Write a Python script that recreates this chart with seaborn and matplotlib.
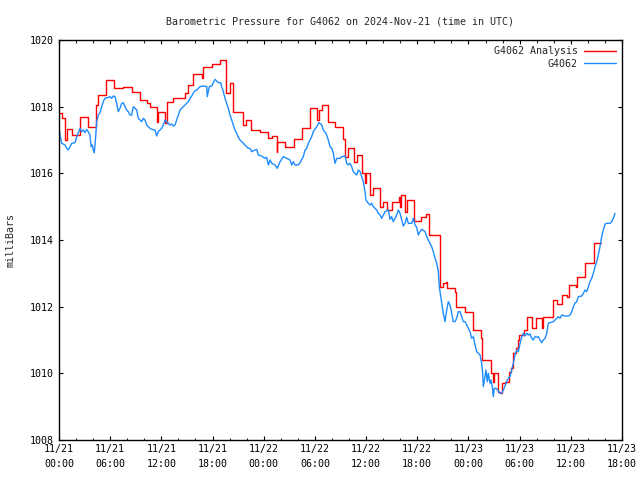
import matplotlib
matplotlib.use("Agg")
import matplotlib.pyplot as plt
import seaborn as sns
import pandas as pd
from matplotlib.ticker import MultipleLocator

# hours since 2024-11-21 00:00 UTC
analysis_hours = [0.0, 0.4, 0.7, 0.9, 1.56, 2.46, 3.43, 4.34, 4.6, 5.47, 6.48, 7.54, 8.52, 9.5,
                  10.28, 10.67, 11.45, 11.64, 12.43, 12.63, 13.4, 14.77, 15.09, 15.74, 16.73,
                  16.92, 17.9, 18.87, 19.58, 20.05, 20.43, 21.6, 21.9, 22.47, 23.56, 24.54,
                  24.94, 25.52, 25.6, 26.5, 27.58, 28.45, 29.4, 30.28, 30.48, 30.8, 31.57,
                  32.36, 33.33, 33.53, 33.92, 34.58, 34.9, 35.49, 35.87, 35.99, 36.46, 36.81,
                  37.63, 37.95, 38.49, 39.0, 39.86, 39.97, 40.1, 40.56, 40.76, 41.62, 42.44,
                  43.0, 43.41, 44.67, 45.05, 45.37, 45.5, 46.42, 46.54, 47.6, 48.53, 49.44,
                  49.55, 50.6, 50.91, 51.0, 51.43, 51.7, 51.9, 52.29, 52.79, 52.95, 53.26,
                  53.58, 53.77, 53.96, 54.51, 54.9, 55.42, 55.92, 56.59, 56.78, 57.88, 58.42,
                  58.93, 59.52, 59.82, 60.61, 60.76, 61.67, 62.72, 63.54]
analysis_mbar = [1017.8, 1017.65, 1017.0, 1017.32, 1017.15, 1017.7, 1017.4, 1018.05, 1018.35,
                 1018.8, 1018.55, 1018.58, 1018.45, 1018.2, 1018.1, 1018.0, 1017.55, 1017.83,
                 1017.5, 1018.15, 1018.25, 1018.4, 1018.65, 1018.98, 1018.85, 1019.2, 1019.27,
                 1019.4, 1018.4, 1018.7, 1017.85, 1017.45, 1017.6, 1017.3, 1017.25, 1017.05,
                 1017.12, 1016.65, 1016.95, 1016.78, 1017.02, 1017.35, 1017.95, 1017.6, 1017.9,
                 1018.05, 1017.55, 1017.4, 1017.02, 1016.5, 1016.75, 1016.35, 1016.55, 1016.0,
                 1015.7, 1016.0, 1015.35, 1015.55, 1015.0, 1015.15, 1014.9, 1015.15, 1015.3,
                 1015.0, 1015.35, 1014.85, 1015.2, 1014.57, 1014.7, 1014.78, 1014.15, 1012.6,
                 1012.7, 1012.75, 1012.55, 1012.45, 1012.0, 1011.85, 1011.3, 1011.05, 1010.4,
                 1010.0, 1009.75, 1010.0, 1009.45, 1009.4, 1009.7, 1009.75, 1010.05, 1010.15,
                 1010.6, 1010.75, 1011.0, 1011.15, 1011.3, 1011.7, 1011.35, 1011.65, 1011.35,
                 1011.7, 1012.2, 1012.07, 1012.35, 1012.3, 1012.65, 1012.58, 1012.88, 1013.3,
                 1013.9, 1013.9]

obs_hours = [0.0, 0.12, 0.32, 0.7, 0.9, 1.09, 1.29, 1.49, 1.88, 2.08, 2.26, 2.46, 2.66, 2.85,
             3.05, 3.25, 3.43, 3.63, 3.75, 3.9, 4.02, 4.14, 4.3, 4.42, 4.61, 4.81, 5.0, 5.19,
             5.39, 5.78, 5.98, 6.18, 6.37, 6.57, 6.76, 6.95, 7.15, 7.35, 7.54, 7.74, 7.94,
             8.12, 8.32, 8.52, 8.71, 8.91, 9.11, 9.3, 9.5, 9.7, 9.88, 10.08, 10.28, 10.47,
             10.67, 10.87, 11.25, 11.45, 11.64, 11.84, 12.04, 12.23, 12.43, 12.63, 12.81,
             13.01, 13.21, 13.4, 13.6, 13.8, 13.99, 14.19, 14.38, 14.57, 14.77, 14.97, 15.16,
             15.36, 15.56, 15.74, 15.94, 16.14, 16.33, 16.53, 16.92, 17.32, 17.38, 17.62,
             17.9, 18.09, 18.29, 18.68, 18.96, 19.07, 19.26, 19.46, 19.66, 19.85, 20.05,
             20.25, 20.43, 20.63, 20.83, 21.02, 21.22, 21.61, 22.0, 22.19, 22.39, 22.59,
             22.98, 23.18, 23.36, 23.76, 24.15, 24.35, 24.54, 24.74, 24.94, 25.32, 25.59,
             25.91, 26.3, 26.69, 27.08, 27.28, 27.47, 27.67, 28.05, 28.25, 28.64, 28.84,
             29.04, 29.23, 29.62, 29.81, 30.21, 30.48, 30.8, 30.98, 31.3, 31.57, 31.77,
             31.97, 32.16, 32.36, 32.56, 32.94, 33.14, 33.53, 33.73, 33.92, 34.11, 34.31,
             34.5, 34.7, 34.9, 35.09, 35.29, 35.49, 35.67, 35.87, 35.99, 36.26, 36.46,
             36.66, 36.85, 37.24, 37.43, 37.63, 37.83, 38.02, 38.22, 38.61, 38.81, 39.0,
             39.19, 39.39, 39.59, 39.78, 39.98, 40.18, 40.36, 40.56, 40.76, 40.95, 41.35,
             41.54, 41.74, 41.93, 42.12, 42.32, 42.52, 42.91, 43.11, 43.29, 43.49, 43.69,
             43.88, 44.08, 44.28, 44.47, 44.58, 44.67, 44.87, 45.05, 45.25, 45.45, 45.64,
             45.84, 46.04, 46.22, 46.42, 46.62, 46.81, 47.01, 47.21, 47.4, 47.6, 47.8,
             47.98, 48.18, 48.38, 48.58, 48.77, 48.97, 49.36, 49.55, 49.67, 49.74, 49.94,
             50.05, 50.21, 50.33, 50.53, 50.64, 50.8, 50.91, 51.03, 51.23, 51.43, 51.7,
             51.9, 52.09, 52.49, 52.67, 52.87, 53.07, 53.26, 53.46, 53.66, 53.85, 54.05,
             54.25, 54.44, 54.64, 54.84, 55.02, 55.22, 55.42, 55.6, 55.8, 56.0, 56.19,
             56.39, 56.59, 56.78, 56.98, 57.18, 57.36, 57.56, 57.95, 58.15, 58.35, 58.54,
             58.73, 58.93, 59.32, 59.71, 59.91, 60.11, 60.29, 60.49, 60.69, 60.88, 61.28,
             61.47, 61.67, 61.87, 62.06, 62.25, 62.45, 62.64, 62.84, 63.04, 63.22, 63.42,
             63.62, 63.81, 64.01, 64.21, 64.6, 64.8, 64.98, 65.18]
obs_mbar = [1017.42, 1017.15, 1016.9, 1016.85, 1016.75, 1016.7, 1016.8, 1016.9, 1016.92, 1017.1,
            1017.22, 1017.35, 1017.25, 1017.3, 1017.22, 1017.32, 1017.25, 1017.15, 1016.8,
            1016.85, 1016.7, 1016.62, 1017.1, 1017.55, 1017.75, 1017.82, 1018.0, 1018.15,
            1018.25, 1018.28, 1018.3, 1018.25, 1018.32, 1018.3, 1018.1, 1017.85, 1017.95,
            1018.1, 1018.12, 1018.0, 1017.9, 1017.85, 1017.75, 1017.75, 1018.0, 1017.95,
            1017.9, 1017.65, 1017.6, 1017.55, 1017.65, 1017.6, 1017.45, 1017.4, 1017.35,
            1017.32, 1017.3, 1017.12, 1017.25, 1017.3, 1017.35, 1017.45, 1017.6, 1017.55,
            1017.5, 1017.45, 1017.48, 1017.42, 1017.45, 1017.6, 1017.75, 1017.9, 1017.95,
            1018.0, 1018.05, 1018.1, 1018.15, 1018.25, 1018.32, 1018.4, 1018.48, 1018.5,
            1018.55, 1018.6, 1018.62, 1018.6, 1018.3, 1018.6, 1018.62, 1018.72, 1018.82,
            1018.72, 1018.72, 1018.6, 1018.45, 1018.25, 1018.1, 1017.95, 1017.75, 1017.6,
            1017.45, 1017.3, 1017.2, 1017.08, 1017.0, 1016.9, 1016.8, 1016.75, 1016.75,
            1016.65, 1016.7, 1016.72, 1016.55, 1016.52, 1016.45, 1016.48, 1016.25, 1016.4,
            1016.3, 1016.25, 1016.15, 1016.35, 1016.5, 1016.45, 1016.4, 1016.25, 1016.35,
            1016.25, 1016.25, 1016.32, 1016.5, 1016.7, 1016.75, 1016.9, 1017.1, 1017.25,
            1017.4, 1017.52, 1017.45, 1017.3, 1017.2, 1017.0, 1016.8, 1016.75, 1016.6,
            1016.3, 1016.45, 1016.45, 1016.5, 1016.52, 1016.3, 1016.25, 1016.3, 1016.2,
            1016.05, 1016.0, 1015.95, 1016.1, 1016.05, 1015.9, 1015.75, 1015.45, 1015.2,
            1015.1, 1015.05, 1015.1, 1015.0, 1014.9, 1014.8, 1014.75, 1014.65, 1014.75,
            1014.85, 1014.9, 1014.62, 1014.7, 1014.55, 1014.65, 1014.75, 1014.9, 1014.8,
            1014.6, 1014.42, 1014.5, 1014.68, 1014.5, 1014.5, 1014.65, 1014.45, 1014.38,
            1014.15, 1014.25, 1014.32, 1014.25, 1014.1, 1014.0, 1013.9, 1013.8, 1013.65,
            1013.45, 1013.3, 1013.05, 1012.6, 1012.45, 1012.1, 1011.8, 1011.55, 1011.9,
            1012.15, 1012.05, 1011.8, 1011.55, 1011.55, 1011.65, 1011.85, 1011.85, 1011.7,
            1011.55, 1011.55, 1011.45, 1011.35, 1011.25, 1011.05, 1011.1, 1010.85, 1010.65,
            1010.55, 1010.3, 1010.0, 1009.6, 1009.9, 1010.1, 1009.75, 1010.0, 1009.7,
            1009.8, 1009.6, 1009.3, 1009.55, 1009.55, 1009.5, 1009.4, 1009.4, 1009.5,
            1009.75, 1009.85, 1009.9, 1010.1, 1010.3, 1010.55, 1010.7, 1010.65, 1010.9,
            1011.1, 1011.2, 1011.12, 1011.2, 1011.15, 1011.18, 1011.05, 1011.0, 1011.1,
            1011.08, 1011.1, 1011.0, 1010.92, 1011.0, 1011.05, 1011.2, 1011.5, 1011.52,
            1011.55, 1011.6, 1011.65, 1011.7, 1011.65, 1011.75, 1011.72, 1011.72, 1011.75,
            1011.85, 1012.0, 1012.1, 1012.15, 1012.3, 1012.32, 1012.4, 1012.5, 1012.45,
            1012.6, 1012.75, 1012.85, 1013.0, 1013.2, 1013.35, 1013.55, 1013.8, 1014.1,
            1014.3, 1014.48, 1014.5, 1014.5, 1014.55, 1014.65, 1014.8]

tick_hours = [0, 6, 12, 18, 24, 30, 36, 42, 48, 54, 60, 66]
tick_labels = ["11/21\n00:00", "11/21\n06:00", "11/21\n12:00", "11/21\n18:00",
               "11/22\n00:00", "11/22\n06:00", "11/22\n12:00", "11/22\n18:00",
               "11/23\n00:00", "11/23\n06:00", "11/23\n12:00", "11/23\n18:00"]
y_ticks = [1008, 1010, 1012, 1014, 1016, 1018, 1020]

sns.set_style("ticks")
plt.rcParams["font.family"] = ["DejaVu Sans Mono"]
plt.rcParams["font.size"] = 7.2

df_a = pd.DataFrame({"hours": analysis_hours, "mbar": analysis_mbar})
df_o = pd.DataFrame({"hours": obs_hours, "mbar": obs_mbar})

fig = plt.figure(figsize=(6.4, 4.8), dpi=100)
ax = fig.add_axes([59 / 640, 40 / 480, 563 / 640, 400 / 480])

sns.lineplot(data=df_a, x="hours", y="mbar", ax=ax, color="#ff0000", lw=1.0,
             drawstyle="steps-post", estimator=None, sort=False, label="G4062 Analysis")
sns.lineplot(data=df_o, x="hours", y="mbar", ax=ax, color="#1e8cff", lw=1.0,
             estimator=None, sort=False, label="G4062")

ax.set_xlim(0, 66)
ax.set_ylim(1008, 1020)
ax.set_xticks(tick_hours)
ax.set_xticklabels(tick_labels, linespacing=1.6)
ax.xaxis.set_minor_locator(MultipleLocator(2))
ax.set_yticks(y_ticks)
ax.tick_params(axis="both", which="major", direction="in", length=3.2, width=0.8,
               top=True, right=True, labelsize=7.2, colors="black")
ax.tick_params(axis="x", which="major", pad=3)
ax.tick_params(axis="y", which="major", pad=4)
ax.tick_params(axis="both", which="minor", direction="in", length=1.8, width=0.8,
               top=True, right=True)
for s in ax.spines.values():
    s.set_visible(True)
    s.set_color("black")
    s.set_linewidth(1.0)

ax.set_xlabel("")
ax.set_ylabel("milliBars", fontsize=7.2, labelpad=10)
ax.set_title("Barometric Pressure for G4062 on 2024-Nov-21 (time in UTC)", fontsize=7.2, pad=11)

leg = ax.legend(loc="upper right", frameon=False, markerfirst=False, fontsize=7.2,
                handlelength=3.2, handletextpad=0.6, borderaxespad=0.25, labelspacing=0.25)

fig.savefig("out.png", dpi=100)
